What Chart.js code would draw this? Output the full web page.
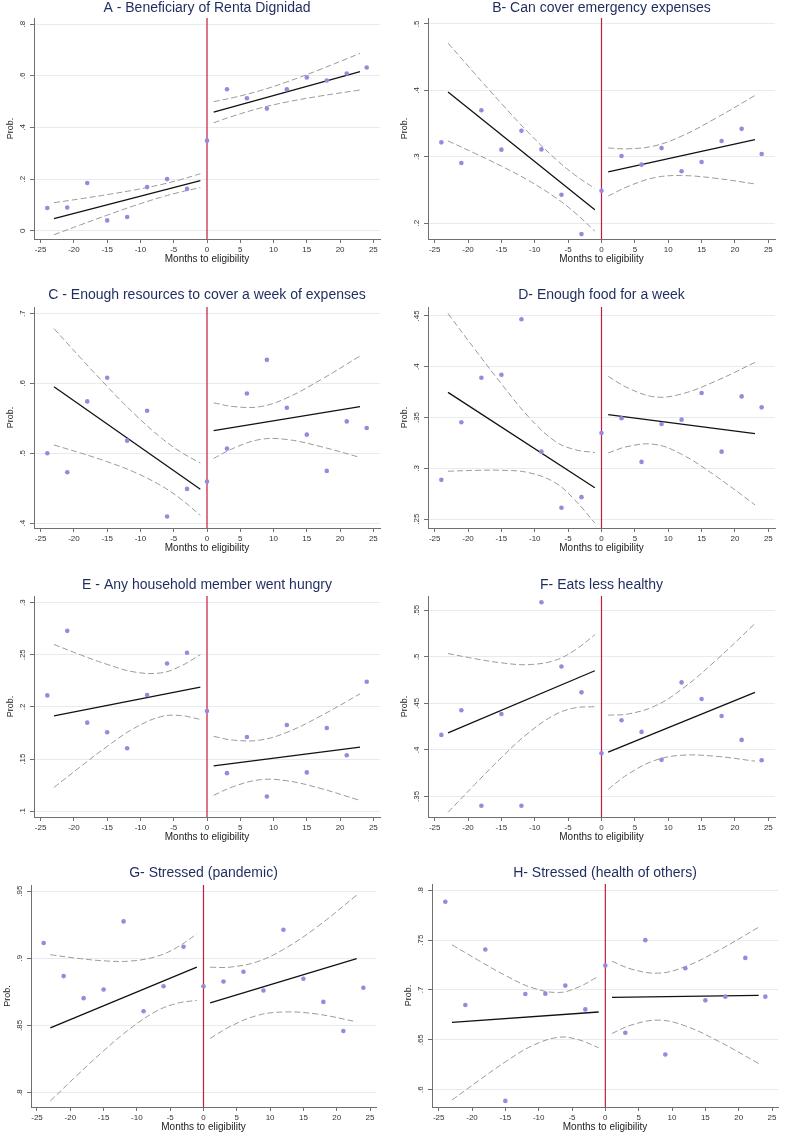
<!DOCTYPE html>
<html><head><meta charset="utf-8">
<script src="https://cdn.jsdelivr.net/npm/chart.js@4.4.1/dist/chart.umd.min.js"></script>
<style>
html,body{margin:0;padding:0;background:#fff;overflow:hidden;width:789px;height:1134px;position:relative}
canvas{position:absolute}
</style></head><body>
<script>
// ---------- DATA ----------
const months = [-24,-21,-18,-15,-12,-9,-6,-3,0,3,6,9,12,15,18,21,24];
const xTicks = [-25,-20,-15,-10,-5,0,5,10,15,20,25];
const fitXLeft = [-23,-1];
const fitXRight = [1,23];
const ciXLeft = [-23,-19,-15,-11,-7,-4,-1];
const ciXRight = [1,4,8,12,17,23];
const xAxisTitle = 'Months to eligibility';
const yAxisTitle = 'Prob.';

// A
const titleA = 'A - Beneficiary of Renta Dignidad';
const pointsA = [.088,.090,.185,.040,.053,.169,.200,.162,.349,.548,.513,.473,.548,.594,.582,.609,.632];
const fitLeftA = [.0465,.194], fitRightA = [.459,.616];
const ciUpLeftA = [.1085,.1238,.1398,.1574,.1783,.1978,.221];
const ciLoLeftA = [-.0155,.0228,.0604,.0964,.1291,.1498,.167];
const ciUpRightA = [.500,.516,.5428,.5764,.6247,.687];
const ciLoRightA = [.418,.4448,.4752,.4986,.5217,.545];
const yTicksA = [0,.2,.4,.6,.8];
const yRangeA = [-.032,.824];
// B
const titleB = 'B- Can cover emergency expenses';
const pointsB = [.3216,.2905,.370,.3106,.339,.311,.2427,.1834,.2487,.301,.288,.313,.278,.292,.3236,.342,.304];
const fitLeftB = [.3975,.220], fitRightB = [.277,.3256];
const ciUpLeftB = [.4712,.4252,.3802,.3369,.2976,.2726,.252];
const ciLoLeftB = [.3238,.3052,.2858,.2645,.2392,.2158,.188];
const ciUpRightB = [.3132,.3119,.3165,.331,.3572,.3922];
const ciLoRightB = [.2408,.2553,.2685,.2716,.2676,.259];
const yTicksB = [.2,.3,.4,.5];
const yRangeB = [.176,.509];
// C
const titleC = 'C - Enough resources to cover a week of expenses';
const pointsC = [.500,.4729,.5743,.6081,.5181,.561,.4095,.449,.4595,.5067,.5857,.6338,.5652,.5267,.4748,.5457,.5362];
const fitLeftC = [.5952,.4486], fitRightC = [.5324,.5667];
const ciUpLeftC = [.6785,.6366,.5958,.5571,.523,.5022,.486];
const ciLoLeftC = [.5119,.5004,.488,.4733,.4542,.435,.4112];
const ciUpRightC = [.5722,.5669,.5668,.5793,.6048,.6393];
const ciLoRightC = [.4926,.5073,.5198,.5197,.5098,.4941];
const yTicksC = [.4,.5,.6,.7];
const yRangeC = [.393,.7095];
// D
const titleD = 'D- Enough food for a week';
const pointsD = [.2886,.3453,.3891,.3921,.4467,.3164,.2611,.2716,.3348,.3492,.3063,.3436,.3479,.3741,.3164,.3708,.360];
const fitLeftD = [.3747,.2808], fitRightD = [.3528,.3341];
const ciUpLeftD = [.4523,.4173,.3832,.3512,.3268,.3184,.3155];
const ciLoLeftD = [.2971,.2979,.298,.2958,.286,.2688,.2461];
const ciUpRightD = [.3905,.379,.3703,.3732,.3855,.4042];
const ciLoRightD = [.3151,.3216,.3235,.3138,.2929,.264];
const yTicksD = [.25,.3,.35,.4,.45];
const yRangeD = [.2412,.4588];
// E
const titleE = 'E - Any household member went hungry';
const pointsE = [.2111,.2729,.185,.1758,.1605,.2115,.2417,.2519,.1962,.1366,.1713,.1143,.1828,.1373,.1799,.1538,.2242];
const fitLeftE = [.1914,.2191], fitRightE = [.1436,.1615];
const ciUpLeftE = [.2599,.2499,.2408,.2336,.2326,.239,.2501];
const ciLoLeftE = [.1229,.1429,.1622,.1794,.1906,.1918,.1881];
const ciUpRightE = [.1718,.1682,.1683,.1757,.1911,.2126];
const ciLoRightE = [.1154,.1238,.1303,.1293,.1221,.1104];
const yTicksE = [.1,.15,.2,.25,.3];
const yRangeE = [.0946,.3063];
// F
const titleF = 'F- Eats less healthy';
const pointsF = [.4161,.4425,.34,.4386,.34,.5586,.4896,.4618,.3964,.4318,.4193,.3893,.4725,.4546,.4364,.4107,.3889];
const fitLeftF = [.4182,.485], fitRightF = [.3975,.4618];
const ciUpLeftF = [.5035,.498,.4935,.4916,.4961,.5071,.5236];
const ciLoLeftF = [.3329,.3628,.3917,.418,.4377,.4451,.4464];
const ciUpRightF = [.4373,.4386,.4471,.465,.4952,.5357];
const ciLoRightF = [.3577,.374,.3887,.3942,.3932,.3879];
const yTicksF = [.35,.4,.45,.5,.55];
const yRangeF = [.3279,.5653];
// G
const titleG = 'G- Stressed (pandemic)';
const pointsG = [.9113,.8867,.8703,.8767,.9274,.8606,.8792,.9085,.8792,.8827,.8899,.876,.9212,.8847,.8675,.8459,.878];
const fitLeftG = [.8482,.8934], fitRightG = [.8668,.8998];
const ciUpLeftG = [.9026,.9,.8981,.8979,.9014,.908,.9181];
const ciLoLeftG = [.7938,.8128,.8311,.8477,.8608,.8664,.8687];
const ciUpRightG = [.8933,.8934,.8973,.9066,.9231,.9469];
const ciLoRightG = [.8403,.8492,.8573,.86,.8585,.8527];
const yTicksG = [.8,.85,.9,.95];
const yRangeG = [.7893,.9545];
// H
const titleH = 'H- Stressed (health of others)';
const pointsH = [.7886,.6849,.7406,.5886,.696,.6963,.7044,.6805,.7245,.657,.75,.6352,.7218,.6896,.6933,.7322,.6933];
const fitLeftH = [.6674,.6779], fitRightH = [.6926,.6946];
const ciUpLeftH = [.7453,.7296,.7146,.7023,.6975,.703,.7138];
const ciLoLeftH = [.5895,.609,.6278,.6439,.6525,.65,.642];
const ciUpRightH = [.7288,.7208,.7169,.7235,.7398,.763];
const ciLoRightH = [.6564,.665,.6697,.6639,.6484,.6262];
const yTicksH = [.6,.65,.7,.75,.8];
const yRangeH = [.5825,.8064];

const panels = [
  {title:titleA, pts:pointsA, fl:fitLeftA, fr:fitRightA, ul:ciUpLeftA, ll:ciLoLeftA, ur:ciUpRightA, lr:ciLoRightA, yt:yTicksA, yr:yRangeA},
  {title:titleB, pts:pointsB, fl:fitLeftB, fr:fitRightB, ul:ciUpLeftB, ll:ciLoLeftB, ur:ciUpRightB, lr:ciLoRightB, yt:yTicksB, yr:yRangeB},
  {title:titleC, pts:pointsC, fl:fitLeftC, fr:fitRightC, ul:ciUpLeftC, ll:ciLoLeftC, ur:ciUpRightC, lr:ciLoRightC, yt:yTicksC, yr:yRangeC},
  {title:titleD, pts:pointsD, fl:fitLeftD, fr:fitRightD, ul:ciUpLeftD, ll:ciLoLeftD, ur:ciUpRightD, lr:ciLoRightD, yt:yTicksD, yr:yRangeD},
  {title:titleE, pts:pointsE, fl:fitLeftE, fr:fitRightE, ul:ciUpLeftE, ll:ciLoLeftE, ur:ciUpRightE, lr:ciLoRightE, yt:yTicksE, yr:yRangeE},
  {title:titleF, pts:pointsF, fl:fitLeftF, fr:fitRightF, ul:ciUpLeftF, ll:ciLoLeftF, ur:ciUpRightF, lr:ciLoRightF, yt:yTicksF, yr:yRangeF},
  {title:titleG, pts:pointsG, fl:fitLeftG, fr:fitRightG, ul:ciUpLeftG, ll:ciLoLeftG, ur:ciUpRightG, lr:ciLoRightG, yt:yTicksG, yr:yRangeG},
  {title:titleH, pts:pointsH, fl:fitLeftH, fr:fitRightH, ul:ciUpLeftH, ll:ciLoLeftH, ur:ciUpRightH, lr:ciLoRightH, yt:yTicksH, yr:yRangeH}
];

// ---------- LAYOUT (page pixels) ----------
const layouts = [
  {cl:0,   ct:0,   pl:34,  pt:18,  pr:380, pb:239,  ty:8.4,   tp:4,   xmin:-26,   xmax:26},
  {cl:395, ct:0,   pl:428, pt:18,  pr:775, pb:239,  ty:8.4,   tp:4,   xmin:-26,   xmax:26},
  {cl:0,   ct:280, pl:34,  pt:307, pr:380, pb:528,  ty:295,   tp:4,   xmin:-26,   xmax:26},
  {cl:395, ct:280, pl:428, pt:307, pr:775, pb:528,  ty:295,   tp:1.5, xmin:-26,   xmax:26},
  {cl:0,   ct:560, pl:34,  pt:596, pr:380, pb:817,  ty:585,   tp:1.5, xmin:-26,   xmax:26},
  {cl:395, ct:560, pl:428, pt:596, pr:775, pb:817,  ty:585,   tp:1.5, xmin:-26,   xmax:26},
  {cl:0,   ct:840, pl:31,  pt:885, pr:376, pb:1107, ty:873.3, tp:1.5, xmin:-25.9, xmax:25.9},
  {cl:395, ct:840, pl:432, pt:884, pr:778, pb:1107, ty:873.3, tp:1.5, xmin:-26,   xmax:25.9}
];

// ---------- STYLE ----------
const FONT = "'Liberation Sans', Arial, Helvetica, sans-serif";
const DOT = '#958bdc';
const AXIS = '#707070';
const GRID = '#e2edf0';
const CI = '#9a9a9a';
const TITLE = '#1e2c5e';
Chart.defaults.font.family = FONT;

const zeroLine = {
  id: 'zeroLine',
  beforeDatasetsDraw(chart) {
    const {ctx, chartArea, scales} = chart;
    const px = scales.x.getPixelForValue(0);
    ctx.save();
    ctx.strokeStyle = '#c41a3b';
    ctx.lineWidth = 1.2;
    ctx.beginPath();
    ctx.moveTo(px, chartArea.top);
    ctx.lineTo(px, chartArea.bottom);
    ctx.stroke();
    ctx.restore();
  }
};

function fmt(v) {
  if (Math.abs(v) < 1e-9) return '0';
  return String(+v.toFixed(2)).replace(/^0\./, '.').replace(/^-0\./, '-.');
}
const pairs = (xs, ys) => xs.map((x, i) => ({x, y: ys[i]}));

function makeChart(p, L) {
  const yw = L.pl - L.cl;
  const cw = 2 * yw + (L.pr - L.pl);
  const ch = L.pb - L.ct + 40;
  const canvas = document.createElement('canvas');
  canvas.width = cw; canvas.height = ch;
  canvas.style.left = L.cl + 'px'; canvas.style.top = L.ct + 'px';
  canvas.style.width = cw + 'px'; canvas.style.height = ch + 'px';
  document.body.appendChild(canvas);
  const tTop = Math.max(0, L.ty - L.ct - 8.4);
  const tBot = (L.pt - L.ct) - 16.8 - tTop;
  const lineDs = (xs, ys) => ({data: pairs(xs, ys), showLine: true, borderColor: '#111', borderWidth: 1.3, pointRadius: 0, pointHoverRadius: 0, fill: false});
  const ciDs = (xs, ys) => ({data: pairs(xs, ys), showLine: true, borderColor: CI, borderWidth: 1, borderDash: [6, 3], tension: 0.4, pointRadius: 0, pointHoverRadius: 0, fill: false});
  new Chart(canvas, {
    type: 'scatter',
    data: {datasets: [
      {data: pairs(months, p.pts), backgroundColor: DOT, borderWidth: 0, pointRadius: 2.3, pointHoverRadius: 2.3},
      lineDs(fitXLeft, p.fl), lineDs(fitXRight, p.fr),
      ciDs(ciXLeft, p.ul), ciDs(ciXLeft, p.ll), ciDs(ciXRight, p.ur), ciDs(ciXRight, p.lr)
    ]},
    options: {
      responsive: false, animation: false, devicePixelRatio: 1, events: [],
      layout: {padding: 0},
      plugins: {
        legend: {display: false}, tooltip: {enabled: false},
        title: {display: true, text: p.title, color: TITLE, font: {size: 14, weight: 'normal', lineHeight: 1.2}, padding: {top: tTop, bottom: tBot}}
      },
      scales: {
        x: {
          type: 'linear', position: 'bottom', min: L.xmin, max: L.xmax,
          afterBuildTicks: s => { s.ticks = xTicks.map(v => ({value: v})); },
          afterFit: s => { s.height = 40; },
          grid: {display: true, drawOnChartArea: false, drawTicks: true, tickLength: 4, tickColor: AXIS, tickWidth: 1},
          border: {display: true, color: AXIS, width: 1},
          ticks: {color: '#333', font: {size: 8}, padding: 1.5, maxRotation: 0, autoSkip: false, callback: v => String(v)},
          title: {display: true, text: xAxisTitle, color: '#222', font: {size: 10}, padding: {top: 0, bottom: 14}}
        },
        y: {
          type: 'linear', position: 'left', min: p.yr[0], max: p.yr[1],
          afterBuildTicks: s => { s.ticks = p.yt.map(v => ({value: v})); },
          afterFit: s => { s.width = yw; },
          grid: {display: true, color: GRID, lineWidth: 1, drawTicks: true, tickLength: 4, tickColor: AXIS, tickWidth: 1},
          border: {display: true, color: AXIS, width: 1},
          ticks: {color: '#333', font: {size: 8}, padding: L.tp, minRotation: 90, maxRotation: 90, crossAlign: 'center', autoSkip: false, callback: v => fmt(v)},
          title: {display: true, text: yAxisTitle, color: '#222', font: {size: 9}, padding: {top: yw - 28.4, bottom: 0}}
        },
        y2: {
          type: 'linear', position: 'right', display: true,
          afterFit: s => { s.width = yw; },
          grid: {display: false}, border: {display: false}, ticks: {display: false}
        }
      }
    },
    plugins: [zeroLine]
  });
}

panels.forEach((p, i) => makeChart(p, layouts[i]));
</script>
</body></html>
